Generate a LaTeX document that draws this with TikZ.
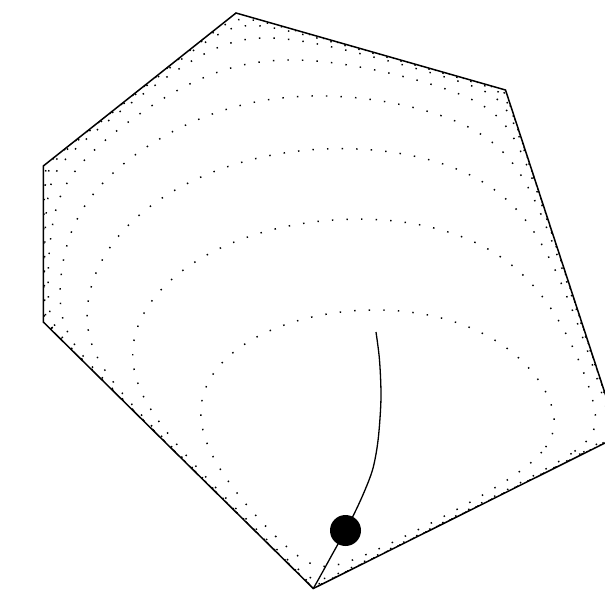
\documentclass[tikz,border=0pt]{standalone}
\ExplSyntaxOn
% ---- polygon vertices (pixel coordinates, y downwards)
\fp_const:Nn \c_rs_xA_fp {236}   \fp_const:Nn \c_rs_yA_fp {13}
\fp_const:Nn \c_rs_xB_fp {505.5} \fp_const:Nn \c_rs_yB_fp {90}
\fp_const:Nn \c_rs_xC_fp {619}   \fp_const:Nn \c_rs_yC_fp {436}
\fp_const:Nn \c_rs_xD_fp {313.3} \fp_const:Nn \c_rs_yD_fp {588.5}
\fp_const:Nn \c_rs_xE_fp {43.3}  \fp_const:Nn \c_rs_yE_fp {322}
\fp_const:Nn \c_rs_xF_fp {43.3}  \fp_const:Nn \c_rs_yF_fp {166}
\fp_const:Nn \c_rs_exa_fp { \c_rs_xB_fp - \c_rs_xA_fp }
\fp_const:Nn \c_rs_eya_fp { \c_rs_yB_fp - \c_rs_yA_fp }
\fp_const:Nn \c_rs_exb_fp { \c_rs_xC_fp - \c_rs_xB_fp }
\fp_const:Nn \c_rs_eyb_fp { \c_rs_yC_fp - \c_rs_yB_fp }
\fp_const:Nn \c_rs_exc_fp { \c_rs_xD_fp - \c_rs_xC_fp }
\fp_const:Nn \c_rs_eyc_fp { \c_rs_yD_fp - \c_rs_yC_fp }
\fp_const:Nn \c_rs_exd_fp { \c_rs_xE_fp - \c_rs_xD_fp }
\fp_const:Nn \c_rs_eyd_fp { \c_rs_yE_fp - \c_rs_yD_fp }
\fp_const:Nn \c_rs_exe_fp { \c_rs_xF_fp - \c_rs_xE_fp }
\fp_const:Nn \c_rs_eye_fp { \c_rs_yF_fp - \c_rs_yE_fp }
\fp_const:Nn \c_rs_exf_fp { \c_rs_xA_fp - \c_rs_xF_fp }
\fp_const:Nn \c_rs_eyf_fp { \c_rs_yA_fp - \c_rs_yF_fp }
\cs_new:Npn \rs_d:NNNNnn #1#2#3#4#5#6 { ( #1 * ( (#6) - #4 ) - #2 * ( (#5) - #3 ) ) }
\cs_new:Npn \rs_prod:nn #1#2 {
  \rs_d:NNNNnn \c_rs_exa_fp \c_rs_eya_fp \c_rs_xA_fp \c_rs_yA_fp {#1}{#2} *
  \rs_d:NNNNnn \c_rs_exb_fp \c_rs_eyb_fp \c_rs_xB_fp \c_rs_yB_fp {#1}{#2} *
  \rs_d:NNNNnn \c_rs_exc_fp \c_rs_eyc_fp \c_rs_xC_fp \c_rs_yC_fp {#1}{#2} *
  \rs_d:NNNNnn \c_rs_exd_fp \c_rs_eyd_fp \c_rs_xD_fp \c_rs_yD_fp {#1}{#2} *
  \rs_d:NNNNnn \c_rs_exe_fp \c_rs_eye_fp \c_rs_xE_fp \c_rs_yE_fp {#1}{#2} *
  \rs_d:NNNNnn \c_rs_exf_fp \c_rs_eyf_fp \c_rs_xF_fp \c_rs_yF_fp {#1}{#2}
}
% ---- barrier-plus-linear objective  a x - k y - sum ln d_i
\fp_const:Nn \c_rs_k_fp {0.01384}
\fp_const:Nn \c_rs_a_fp {-0.0002}
\cs_new:Npn \rs_F:nn #1#2 { ( \c_rs_a_fp * (#1) - \c_rs_k_fp * (#2) - ln( \rs_prod:nn {#1}{#2} ) ) }
\fp_const:Nn \c_rs_ox_fp {372}
\fp_const:Nn \c_rs_oy_fp {445}
\fp_const:Nn \c_rs_Lone_fp { \rs_F:nn {376}{310} }
\fp_const:Nn \c_rs_dL_fp { ( \rs_F:nn {288}{60} - \c_rs_Lone_fp ) / 4 }
\fp_const:Nn \c_rs_Czero_fp { \c_rs_a_fp * \c_rs_ox_fp - \c_rs_k_fp * \c_rs_oy_fp }
\fp_const:Nn \c_rs_Da_fp { \rs_d:NNNNnn \c_rs_exa_fp \c_rs_eya_fp \c_rs_xA_fp \c_rs_yA_fp {\c_rs_ox_fp}{\c_rs_oy_fp} }
\fp_const:Nn \c_rs_Db_fp { \rs_d:NNNNnn \c_rs_exb_fp \c_rs_eyb_fp \c_rs_xB_fp \c_rs_yB_fp {\c_rs_ox_fp}{\c_rs_oy_fp} }
\fp_const:Nn \c_rs_Dc_fp { \rs_d:NNNNnn \c_rs_exc_fp \c_rs_eyc_fp \c_rs_xC_fp \c_rs_yC_fp {\c_rs_ox_fp}{\c_rs_oy_fp} }
\fp_const:Nn \c_rs_Dd_fp { \rs_d:NNNNnn \c_rs_exd_fp \c_rs_eyd_fp \c_rs_xD_fp \c_rs_yD_fp {\c_rs_ox_fp}{\c_rs_oy_fp} }
\fp_const:Nn \c_rs_De_fp { \rs_d:NNNNnn \c_rs_exe_fp \c_rs_eye_fp \c_rs_xE_fp \c_rs_yE_fp {\c_rs_ox_fp}{\c_rs_oy_fp} }
\fp_const:Nn \c_rs_Df_fp { \rs_d:NNNNnn \c_rs_exf_fp \c_rs_eyf_fp \c_rs_xF_fp \c_rs_yF_fp {\c_rs_ox_fp}{\c_rs_oy_fp} }
\fp_new:N \l_rs_ux_fp \fp_new:N \l_rs_uy_fp
\fp_new:N \l_rs_Ma_fp \fp_new:N \l_rs_Mb_fp \fp_new:N \l_rs_Mc_fp
\fp_new:N \l_rs_Md_fp \fp_new:N \l_rs_Me_fp \fp_new:N \l_rs_Mf_fp
\fp_new:N \l_rs_Cone_fp \fp_new:N \l_rs_rmax_fp
\fp_new:N \l_rs_lo_fp \fp_new:N \l_rs_hi_fp \fp_new:N \l_rs_r_fp \fp_new:N \l_rs_L_fp
\cs_new_protected:Npn \rs_setM:NNN #1#2#3 { \fp_set:Nn #1 { #2 * \l_rs_uy_fp - #3 * \l_rs_ux_fp } }
\cs_new_protected:Npn \rs_rmax:NN #1#2
  { \fp_compare:nNnT {#2} < {0} { \fp_set:Nn \l_rs_rmax_fp { min( \l_rs_rmax_fp , - #1 / #2 ) } } }
\cs_new:Npn \rs_G: {
  \l_rs_r_fp * \l_rs_Cone_fp - ln(
   ( \c_rs_Da_fp + \l_rs_r_fp * \l_rs_Ma_fp ) *
   ( \c_rs_Db_fp + \l_rs_r_fp * \l_rs_Mb_fp ) *
   ( \c_rs_Dc_fp + \l_rs_r_fp * \l_rs_Mc_fp ) *
   ( \c_rs_Dd_fp + \l_rs_r_fp * \l_rs_Md_fp ) *
   ( \c_rs_De_fp + \l_rs_r_fp * \l_rs_Me_fp ) *
   ( \c_rs_Df_fp + \l_rs_r_fp * \l_rs_Mf_fp ) )
}
\cs_new_protected:Npn \rs_bisect: {
  \fp_set:Nn \l_rs_r_fp { ( \l_rs_lo_fp + \l_rs_hi_fp ) / 2 }
  \fp_compare:nNnTF { \rs_G: } > { \l_rs_L_fp }
    { \fp_set_eq:NN \l_rs_hi_fp \l_rs_r_fp }
    { \fp_set_eq:NN \l_rs_lo_fp \l_rs_r_fp }
}
\cs_new_protected:Npn \rs_level:n #1 {
  \fp_set:Nn \l_rs_L_fp { \c_rs_Lone_fp + (#1) * \c_rs_dL_fp - \c_rs_Czero_fp }
  \fp_set_eq:NN \l_rs_hi_fp \l_rs_rmax_fp
  \prg_replicate:nn {13} { \rs_bisect: }
  \fp_set:Nn \l_rs_r_fp { ( \l_rs_lo_fp + \l_rs_hi_fp ) / 2 }
  \tl_gput_right:cx { g_rs_path_#1_tl }
    { ( \fp_eval:n { round( \c_rs_ox_fp + \l_rs_r_fp * \l_rs_ux_fp , 2 ) } ,
        \fp_eval:n { round( \c_rs_oy_fp + \l_rs_r_fp * \l_rs_uy_fp , 2 ) } ) ~ }
}
\cs_new_protected:Npn \rs_ray:n #1 {
  \fp_set:Nn \l_rs_ux_fp { cosd(#1) }
  \fp_set:Nn \l_rs_uy_fp { sind(#1) }
  \fp_set:Nn \l_rs_Cone_fp { \c_rs_a_fp * \l_rs_ux_fp - \c_rs_k_fp * \l_rs_uy_fp }
  \rs_setM:NNN \l_rs_Ma_fp \c_rs_exa_fp \c_rs_eya_fp
  \rs_setM:NNN \l_rs_Mb_fp \c_rs_exb_fp \c_rs_eyb_fp
  \rs_setM:NNN \l_rs_Mc_fp \c_rs_exc_fp \c_rs_eyc_fp
  \rs_setM:NNN \l_rs_Md_fp \c_rs_exd_fp \c_rs_eyd_fp
  \rs_setM:NNN \l_rs_Me_fp \c_rs_exe_fp \c_rs_eye_fp
  \rs_setM:NNN \l_rs_Mf_fp \c_rs_exf_fp \c_rs_eyf_fp
  \fp_set:Nn \l_rs_rmax_fp {100000}
  \rs_rmax:NN \c_rs_Da_fp \l_rs_Ma_fp
  \rs_rmax:NN \c_rs_Db_fp \l_rs_Mb_fp
  \rs_rmax:NN \c_rs_Dc_fp \l_rs_Mc_fp
  \rs_rmax:NN \c_rs_Dd_fp \l_rs_Md_fp
  \rs_rmax:NN \c_rs_De_fp \l_rs_Me_fp
  \rs_rmax:NN \c_rs_Df_fp \l_rs_Mf_fp
  \fp_zero:N \l_rs_lo_fp
  \int_step_inline:nnn {0}{7} { \rs_level:n {##1} }
}
\int_step_inline:nnn {0}{7} { \tl_new:c { g_rs_path_#1_tl } }
\int_step_inline:nnn {0}{149} { \rs_ray:n { #1 * 2.4 } }
\cs_new_protected:Npn \rs_draw:n #1 {
  \use:x { \exp_not:N \draw [rscontour] ~ plot [smooth~cycle, tension=0.55] ~ coordinates ~
           { \tl_use:c { g_rs_path_#1_tl } } ; }
}
\NewDocumentCommand \rsdrawcontour { m } { \rs_draw:n {#1} }
\ExplSyntaxOff
\tikzset{
  rsedge/.style={line width=1.5pt, line join=miter},
  rscontour/.style={line width=1.45pt, dash pattern=on 1.45pt off 13.1pt},
  rspath/.style={line width=1.3pt},
  rsdot/.style={circle, fill=black, inner sep=0pt, minimum size=31pt}
}
\begin{document}
\begin{tikzpicture}[x=1pt, y=-1pt]
\useasboundingbox (0,0) rectangle (605,591);
\clip (0,0) rectangle (605,591);
\coordinate (vA) at (236,13);
\coordinate (vB) at (505.5,90);
\coordinate (vC) at (619,436);
\coordinate (vD) at (313.3,588.5);
\coordinate (vE) at (43.3,322);
\coordinate (vF) at (43.3,166);
\coordinate (ac) at (376,332);
\begin{scope}
  \clip (vA) -- (vB) -- (vC) -- (vD) -- (vE) -- (vF) -- cycle;
  \rsdrawcontour{0}
  \rsdrawcontour{1}
  \rsdrawcontour{2}
  \rsdrawcontour{3}
  \rsdrawcontour{4}
  \rsdrawcontour{5}
  \rsdrawcontour{6}
  \rsdrawcontour{7}
\end{scope}
\draw[rsedge] (vA) -- (vB) -- (vC) -- (vD) -- (vE) -- (vF) -- cycle;
\draw[rspath] plot[smooth, tension=0.55] coordinates {(ac) (379.5,360) (381,395) (379.5,425) (377,448) (372.5,470) (365,490) (356,510) (345.5,530.5) (333,553) (322,573) (vD)};
\node[rsdot] (xstar) at (345.5,530.5) {};
\end{tikzpicture}
\end{document}
